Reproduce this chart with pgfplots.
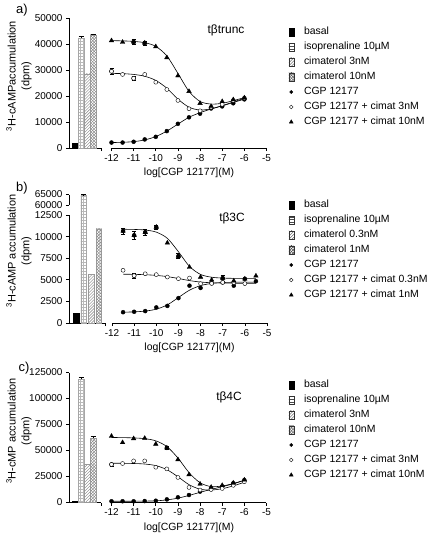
\documentclass[border=0pt]{standalone}
\usepackage{fontspec}
\setmainfont{Liberation Sans}
\usepackage{pgfplots}
\pgfplotsset{compat=1.18}
\usetikzlibrary{patterns}
\newcommand{\tickfont}{\fontsize{10}{12}\selectfont}
\newcommand{\lblfont}{\fontsize{10.5}{12.5}\selectfont}
\newcommand{\ylfont}{\fontsize{11}{14}\selectfont}

\pgfplotsset{
  base/.style={scale only axis, anchor=south west,
    separate axis lines,
    axis line style={line width=0.7bp, black},
    tick style={black, line width=0.7bp}, major tick length=3bp, tick align=outside,
    tick label style={font=\tickfont}, /pgf/number format/assume math mode=true,
    clip=false, scaled y ticks=false},
  baraxis/.style={base, width=32bp, axis x line*=bottom, axis y line*=left,
    xmin=0, xmax=5.33, xtick={5.33}, xticklabels={}, ymin=0},
  curveaxis/.style={base, width=155bp, axis x line*=bottom, axis y line=none,
    xmin=-12, xmax=-5, xtick={-12,-11,-10,-9,-8,-7,-6,-5},
    xticklabels={-12,-11,-10,-9,-8,-7,-6,-5}, ymin=0,
    xlabel={log[CGP 12177](M)}, xlabel style={font=\lblfont},
    legend cell align=left,
    legend style={anchor=north west, draw=none, fill=none, font=\lblfont,
      inner sep=0pt, outer sep=0pt, row sep=5.5bp, column sep=10bp,
      nodes={inner sep=0pt, text height=7.5bp, text depth=2bp}}},
  barleg/.style={legend image code/.code={\draw[##1] (-2.5bp,-4.2bp) rectangle (2.5bp,4.2bp);}},
  markleg/.style={legend image code/.code={\draw[##1] plot coordinates {(0bp,0bp)};}},
  barA/.style={ybar, bar shift=0pt, fill=black, draw=black},
  barB/.style={ybar, bar shift=0pt, pattern=grid, pattern color=gray!55, draw=gray!70},
  barC/.style={ybar, bar shift=0pt, pattern=north east lines, pattern color=gray, draw=gray!80},
  barD/.style={ybar, bar shift=0pt, pattern=crosshatch, pattern color=gray, draw=gray!80},
  barerr/.style={error bars/.cd, y dir=plus, y explicit,
    error mark options={rotate=90, mark size=2.5bp, line width=0.5bp, black},
    error bar style={line width=0.5bp, black}},
  fitline/.style={forget plot, black, line width=0.6bp, smooth, mark=none},
  errplot/.style={forget plot, only marks, mark=none, error bars/.cd, y dir=both, y explicit,
    error mark options={rotate=90, mark size=2bp, black, line width=0.5bp},
    error bar style={black, line width=0.5bp}},
  ptsA/.style={forget plot, only marks, mark=*, mark size=2bp, black},
  ptsB/.style={forget plot, only marks, mark=*, mark size=2bp, black, mark options={fill=white}},
  ptsC/.style={forget plot, only marks, mark=triangle*, mark size=2.6bp, black},
}

\begin{document}
\begin{tikzpicture}
\path[use as bounding box] (0,0) rectangle (430bp,-540bp);

%%%%%%%%%%%%%%%% Panel a %%%%%%%%%%%%%%%%
\begin{axis}[baraxis, at={(69bp,-148bp)}, height=130bp, ymax=50000,
  ytick={0,10000,20000,30000,40000,50000},
  yticklabels={0,10000,20000,30000,40000,50000}]
\addplot[barA, bar width=5.6bp] coordinates {(1,2000)};
\addplot[barB, bar width=5.6bp, barerr] coordinates {(2,42300) +- (0,500)};
\addplot[barC, bar width=5.6bp] coordinates {(3,28500)};
\addplot[barD, bar width=5.6bp, barerr] coordinates {(4,43500) +- (0,400)};
\end{axis}

\begin{axis}[curveaxis, at={(111.5bp,-148bp)}, height=130bp, ymax=50000,
  legend style={at={(1.142,0.929)}},
  legend entries={basal, isoprenaline 10µM, cimaterol 3nM, cimaterol 10nM,
    CGP 12177, CGP 12177 + cimat 3nM, CGP 12177 + cimat 10nM}]
\addlegendimage{barleg, fill=black, draw=black}
\addlegendimage{barleg, pattern=horizontal lines, pattern color=black!70, draw=black!80, line width=0.5bp}
\addlegendimage{barleg, pattern=north east lines, pattern color=black!70, draw=black!80, line width=0.5bp}
\addlegendimage{barleg, pattern=crosshatch, pattern color=black!70, draw=black!80, line width=0.5bp}
\addlegendimage{markleg, only marks, mark=*, mark size=1.6bp, black}
\addlegendimage{markleg, only marks, mark=*, mark size=1.8bp, black, mark options={fill=white}}
\addlegendimage{markleg, only marks, mark=triangle*, mark size=2.2bp, black}
% fits
\addplot[fitline] table {
-12 2100
-11.5 2200
-11 2450
-10.5 3100
-10 4400
-9.5 6500
-9 9200
-8.5 11800
-8 13600
-7.5 15000
-7 16200
-6.5 17500
-6 18800
};
\addplot[fitline] table {
-12 28700
-11.5 28600
-11 28300
-10.5 27600
-10 26000
-9.5 23000
-9 18800
-8.5 15700
-8 14600
-7.5 15100
-7 16300
-6.5 17700
-6 19100
};
\addplot[fitline] table {
-12 41300
-11.5 41200
-11 41000
-10.5 40500
-10 39100
-9.5 35400
-9 28700
-8.5 21800
-8 17900
-7.5 16900
-7 17200
-6.5 18200
-6 19400
};
% error bars
\addplot[errplot] table[y error index=2] {
-12 29500 1000
-11 26800 800
-11 40800 1000
-10.5 40400 800
};
% points
\addplot[ptsA] table {
-12 2100
-11.5 2100
-11 2400
-10.5 3300
-10 4300
-9.5 6500
-9 9300
-8.5 11800
-8 13200
-7.5 15200
-7 16000
-6.5 17200
-6 18700
};
\addplot[ptsB] table {
-12 29500
-11.5 28300
-11 26800
-10.5 28300
-10 25300
-9.5 22500
-9 18300
-8.5 15100
-8 14300
-7.5 15700
-7 16800
-6.5 18300
-6 19200
};
\addplot[ptsC] table {
-12 41300
-11.5 40700
-11 40800
-10.5 40400
-10 39000
-9.5 34800
-9 27800
-8.5 21800
-8 17200
-7.5 16000
-7 17900
-6.5 18600
-6 19300
};
\end{axis}

%%%%%%%%%%%%%%%% Panel b %%%%%%%%%%%%%%%%
% lower part of broken axis (0 - 12500)
\begin{axis}[base, width=36bp, axis x line*=bottom, axis y line*=left,
  y axis line style={draw=none}, clip=true,
  xmin=0.08, xmax=4.82, xtick={4.82}, xticklabels={}, ymin=0, ymax=13657,
  at={(69bp,-323bp)}, height=118bp,
  ytick={0,2500,5000,7500,10000,12500},
  yticklabels={0,2500,5000,7500,10000,12500}]
\addplot[barA, bar width=5.5bp] coordinates {(1,1100)};
\addplot[barB, bar width=5.5bp] coordinates {(2,64500)};
\addplot[barC, bar width=5.5bp] coordinates {(3,5600)};
\addplot[barD, bar width=5.5bp] coordinates {(4,10900)};
\end{axis}
\begin{axis}[base, width=36bp, axis x line=none, axis y line*=left,
  y axis line style={draw=none}, clip=true,
  xmin=0.08, xmax=4.82, ymin=60000, ymax=65600,
  at={(69bp,-205bp)}, height=11.76bp,
  ytick={60000,65000}, yticklabels={60000,65000}]
\addplot[barB, bar width=5.5bp, barerr] coordinates {(2,64500) +- (0,500)};
\end{axis}
% broken y axis line
\begin{axis}[base, width=36bp, height=128.5bp, at={(69bp,-323bp)},
  axis x line=none, axis y line=none, xmin=0, xmax=1, ymin=0, ymax=128.5]
\draw[line width=0.7bp] (axis cs:0,0) -- (axis cs:0,108);
\draw[line width=0.7bp] (axis cs:0,118) -- (axis cs:0,128.5);
\end{axis}

\begin{axis}[curveaxis, at={(112bp,-323bp)}, height=128.5bp, ymax=14873,
  legend style={at={(1.139,0.955)}},
  legend entries={basal, isoprenaline 10µM, cimaterol 0.3nM, cimaterol 1nM,
    CGP 12177, CGP 12177 + cimat 0.3nM, CGP 12177 + cimat 1nM}]
\addlegendimage{barleg, fill=black, draw=black}
\addlegendimage{barleg, pattern=horizontal lines, pattern color=black!70, draw=black!80, line width=0.5bp}
\addlegendimage{barleg, pattern=north east lines, pattern color=black!70, draw=black!80, line width=0.5bp}
\addlegendimage{barleg, pattern=crosshatch, pattern color=black!70, draw=black!80, line width=0.5bp}
\addlegendimage{markleg, only marks, mark=*, mark size=1.6bp, black}
\addlegendimage{markleg, only marks, mark=*, mark size=1.8bp, black, mark options={fill=white}}
\addlegendimage{markleg, only marks, mark=triangle*, mark size=2.2bp, black}
\addplot[fitline] table {
-11.5 1250
-11 1290
-10.5 1380
-10 1600
-9.5 2100
-9 2950
-8.5 3800
-8 4330
-7.5 4580
-7 4680
-6.5 4720
-6 4730
-5.5 4740
};
\addplot[fitline] table {
-11.5 5650
-11 5630
-10.5 5590
-10 5510
-9.5 5370
-9 5150
-8.5 4910
-8 4740
-7.5 4660
-7 4630
-6.5 4610
-6 4600
-5.5 4600
};
\addplot[fitline] table {
-11.5 10850
-11 10830
-10.5 10760
-10 10520
-9.5 9800
-9 8250
-8.5 6550
-8 5620
-7.5 5300
-7 5200
-6.5 5170
-6 5160
-5.5 5160
};
\addplot[errplot] table[y error index=2] {
-11 5480 300
-11.5 10650 350
-11 10150 450
-10.5 10500 400
-10 11100 250
-9 7750 300
-7 5200 350
};
\addplot[ptsA] table {
-11.5 1250
-11 1300
-10.5 1380
-10 1800
-9.5 1980
-9 2880
-8.5 4320
-8 4060
-7.5 4600
-7 4700
-6.5 4320
-6 5110
-5.5 4840
};
\addplot[ptsB] table {
-11.5 6100
-11 5480
-10.5 5700
-10 5600
-9.5 5320
-9 5130
-8.5 5200
-8 4560
-7.5 4580
-7 4700
-6.5 4680
-6 4560
};
\addplot[ptsC] table {
-11.5 10650
-11 10150
-10.5 10500
-10 11100
-9.5 9270
-9 7750
-8.5 6460
-8 5320
-7.5 4980
-7 5200
-6.5 4880
-6 5100
-5.5 5450
};
\end{axis}

%%%%%%%%%%%%%%%% Panel c %%%%%%%%%%%%%%%%
\begin{axis}[baraxis, at={(69bp,-502.5bp)}, height=130bp, ymax=125000,
  ytick={0,25000,50000,75000,100000,125000},
  yticklabels={0,25000,50000,75000,100000,125000}]
\addplot[barA, bar width=5.6bp] coordinates {(1,1000)};
\addplot[barB, bar width=5.6bp, barerr] coordinates {(2,118500) +- (0,1500)};
\addplot[barC, bar width=5.6bp] coordinates {(3,37000)};
\addplot[barD, bar width=5.6bp, barerr] coordinates {(4,62000) +- (0,1500)};
\end{axis}

\begin{axis}[curveaxis, at={(111.5bp,-502.5bp)}, height=130bp, ymax=125000,
  legend style={at={(1.142,0.9405)}},
  legend entries={basal, isoprenaline 10µM, cimaterol 3nM, cimaterol 10nM,
    CGP 12177, CGP 12177 + cimat 3nM, CGP 12177 + cimat 10nM}]
\addlegendimage{barleg, fill=black, draw=black}
\addlegendimage{barleg, pattern=horizontal lines, pattern color=black!70, draw=black!80, line width=0.5bp}
\addlegendimage{barleg, pattern=north east lines, pattern color=black!70, draw=black!80, line width=0.5bp}
\addlegendimage{barleg, pattern=crosshatch, pattern color=black!70, draw=black!80, line width=0.5bp}
\addlegendimage{markleg, only marks, mark=*, mark size=1.6bp, black}
\addlegendimage{markleg, only marks, mark=*, mark size=1.8bp, black, mark options={fill=white}}
\addlegendimage{markleg, only marks, mark=triangle*, mark size=2.2bp, black}
\addplot[fitline] table {
-12 1200
-11.5 1200
-11 1250
-10.5 1350
-10 1600
-9.5 2500
-9 4200
-8.5 6800
-8 9800
-7.5 12600
-7 15200
-6.5 18000
-6 21300
};
\addplot[fitline] table {
-12 37800
-11.5 37700
-11 37500
-10.5 37000
-10 35500
-9.5 31600
-9 24800
-8.5 17200
-8 12800
-7.5 12000
-7 13300
-6.5 16000
-6 19500
};
\addplot[fitline] table {
-12 62500
-11.5 62400
-11 62100
-10.5 61400
-10 59300
-9.5 53800
-9 42800
-8.5 28800
-8 19000
-7.5 15300
-7 15900
-6.5 18200
-6 21500
};
\addplot[errplot] table[y error index=2] {
-12 36600 1500
-9.5 52500 1500
};
\addplot[ptsA] table {
-12 1200
-11.5 1200
-11 1200
-10.5 1400
-10 1700
-9.5 3000
-9 5000
-8.5 7200
-8 10500
-7.5 12800
-7 15300
-6.5 18500
-6 21500
};
\addplot[ptsB] table {
-12 36600
-11.5 37500
-11 40000
-10.5 40000
-10 33900
-9.5 32300
-9 24100
-8.5 14500
-8 12000
-7.5 12500
-7 13500
-6.5 16500
-6 20000
};
\addplot[ptsC] table {
-12 63800
-11.5 57700
-11 61500
-10.5 61800
-10 56200
-9.5 52500
-9 41300
-8.5 26800
-8 17800
-7.5 14800
-7 16500
-6.5 18800
-6 21700
};
\end{axis}

%%%%%%%%%%%%%%%% Text %%%%%%%%%%%%%%%%
\node[font=\fontsize{13}{15}\selectfont] at (22bp,-10bp) {a)};
\node[font=\fontsize{13}{15}\selectfont] at (22bp,-188bp) {b)};
\node[font=\fontsize{13}{15}\selectfont] at (24bp,-368bp) {c)};
\node[font=\ylfont, rotate=90, align=center] at (19bp,-76bp) {\textsuperscript{3}H-cAMPaccumulation\\(dpm)};
\node[font=\ylfont, rotate=90, align=center] at (19bp,-251bp) {\textsuperscript{3}H-cAMP accumulation\\(dpm)};
\node[font=\ylfont, rotate=90, align=center] at (19bp,-431bp) {\textsuperscript{3}H-cMP accumulation\\(dpm)};
\node[font=\fontsize{12}{14}\selectfont] at (226bp,-30bp) {tβtrunc};
\node[font=\fontsize{12}{14}\selectfont] at (232bp,-218bp) {tβ3C};
\node[font=\fontsize{12}{14}\selectfont] at (229bp,-397bp) {tβ4C};
\end{tikzpicture}
\end{document}
